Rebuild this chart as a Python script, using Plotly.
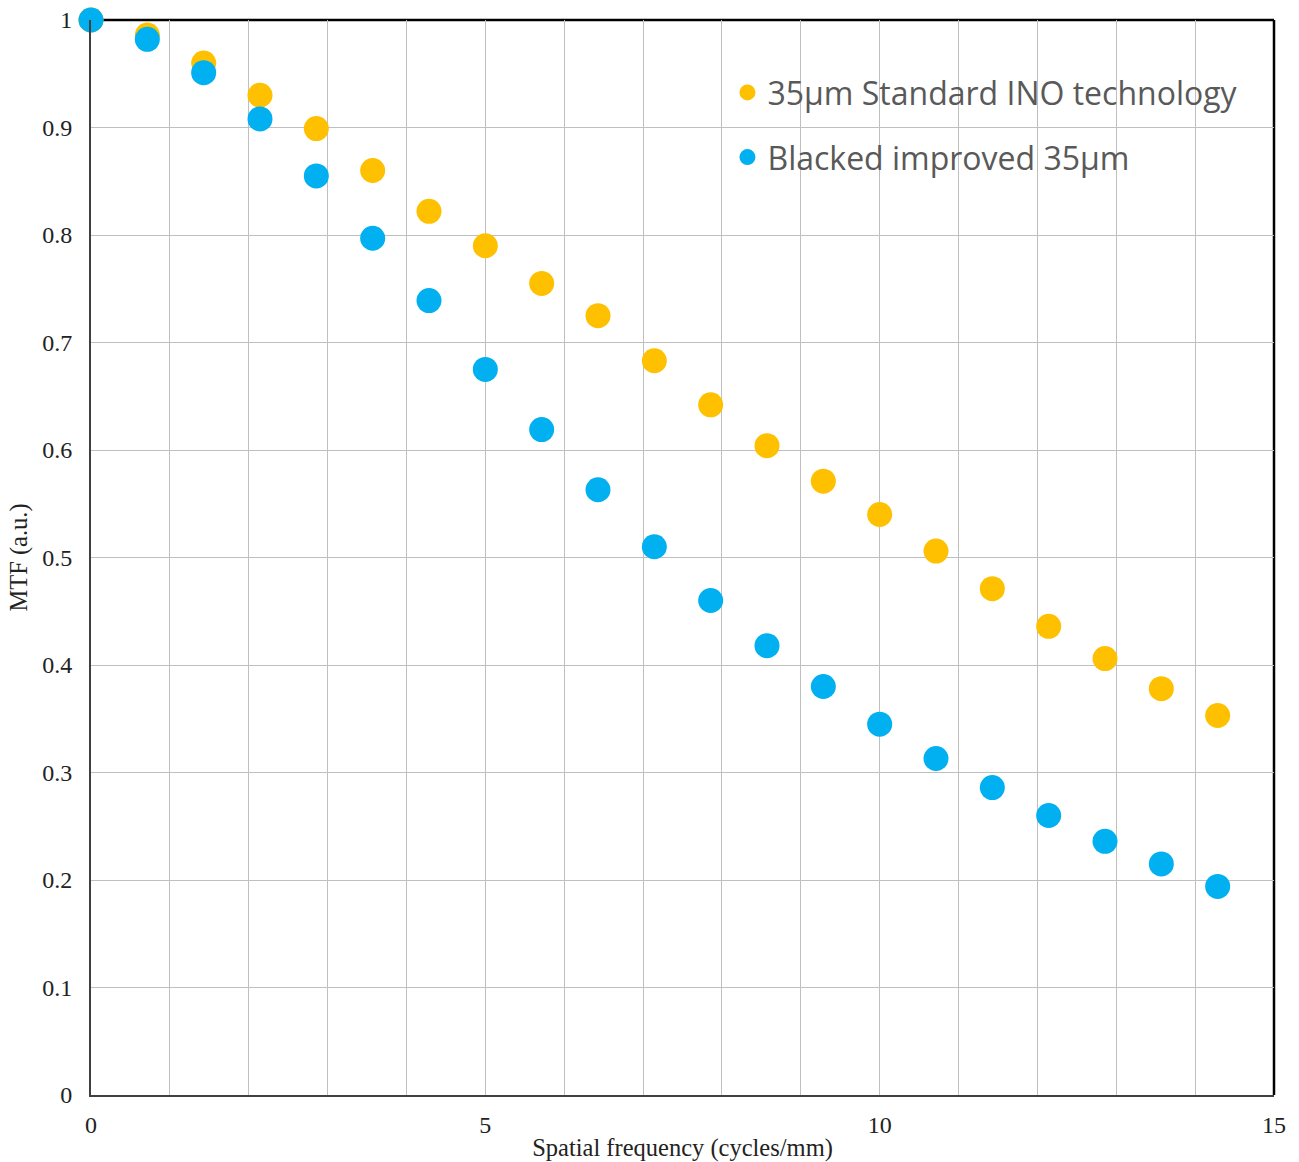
import plotly.graph_objects as go

freq = [i * (1000 / 35) / 2 / 20 for i in range(21)]
standard_mtf = [1.0, 0.986, 0.960, 0.930, 0.899, 0.860, 0.822, 0.790, 0.755, 0.725, 0.683,
                0.642, 0.604, 0.571, 0.540, 0.506, 0.471, 0.436, 0.406, 0.378, 0.353]
blacked_mtf = [1.0, 0.982, 0.951, 0.908, 0.855, 0.797, 0.739, 0.675, 0.619, 0.563, 0.510,
               0.460, 0.418, 0.380, 0.345, 0.313, 0.286, 0.260, 0.236, 0.215, 0.194]
x_tick_vals = list(range(16))
x_tick_text = ["0", "", "", "", "", "5", "", "", "", "", "10", "", "", "", "", "15"]
y_tick_vals = [round(0.1 * i, 1) for i in range(11)]
y_tick_text = ["0", "0.1", "0.2", "0.3", "0.4", "0.5", "0.6", "0.7", "0.8", "0.9", "1"]

fig = go.Figure()
fig.add_trace(go.Scatter(x=freq, y=standard_mtf, mode="markers",
                         name="35µm Standard INO technology", legendgroup="a",
                         marker=dict(color="#FFC000", size=25), cliponaxis=False))
fig.add_trace(go.Scatter(x=freq, y=blacked_mtf, mode="markers",
                         name="Blacked improved 35µm", legendgroup="b",
                         marker=dict(color="#00B0F0", size=25), cliponaxis=False))

serif = "Liberation Serif, Times New Roman, serif"
fig.update_layout(
    width=1299, height=1162,
    margin=dict(l=91, r=25, t=20, b=67, autoexpand=False),
    plot_bgcolor="white", paper_bgcolor="white",
    showlegend=True,
    legend=dict(x=0.538, y=0.958, xanchor="left", yanchor="top",
                bgcolor="rgba(0,0,0,0)", font=dict(family="Open Sans, sans-serif", size=32, color="#595959"),
                itemsizing="trace", tracegroupgap=20, itemwidth=30),
    xaxis=dict(range=[0, 15], tickvals=x_tick_vals, ticktext=x_tick_text, automargin=False,
               showgrid=True, gridcolor="#BFBFBF", gridwidth=1.3, zeroline=False,
               showline=True, linecolor="#404040", linewidth=2, ticks="",
               ticklabelstandoff=7,
               tickfont=dict(family=serif, size=24, color="#222"),
               title=dict(text="Spatial frequency (cycles/mm)", font=dict(family=serif, size=24.5, color="#222"),
                          standoff=2)),
    yaxis=dict(range=[0, 1], tickvals=y_tick_vals, ticktext=y_tick_text, automargin=False,
               showgrid=True, gridcolor="#BFBFBF", gridwidth=1.3, zeroline=False,
               showline=True, linecolor="#404040", linewidth=2, ticks="",
               ticklabelstandoff=12,
               tickfont=dict(family=serif, size=24, color="#222"),
               title=dict(text="MTF (a.u.)", font=dict(family=serif, size=24.5, color="#222"),
                          standoff=8)),
    shapes=[
        dict(type="line", xref="paper", yref="paper", x0=0, x1=1, y0=1, y1=1,
             line=dict(color="black", width=2.5), layer="below"),
        dict(type="line", xref="paper", yref="paper", x0=1, x1=1, y0=0, y1=1,
             line=dict(color="black", width=2.5), layer="below"),
    ],
)

fig.write_html("out.html")
